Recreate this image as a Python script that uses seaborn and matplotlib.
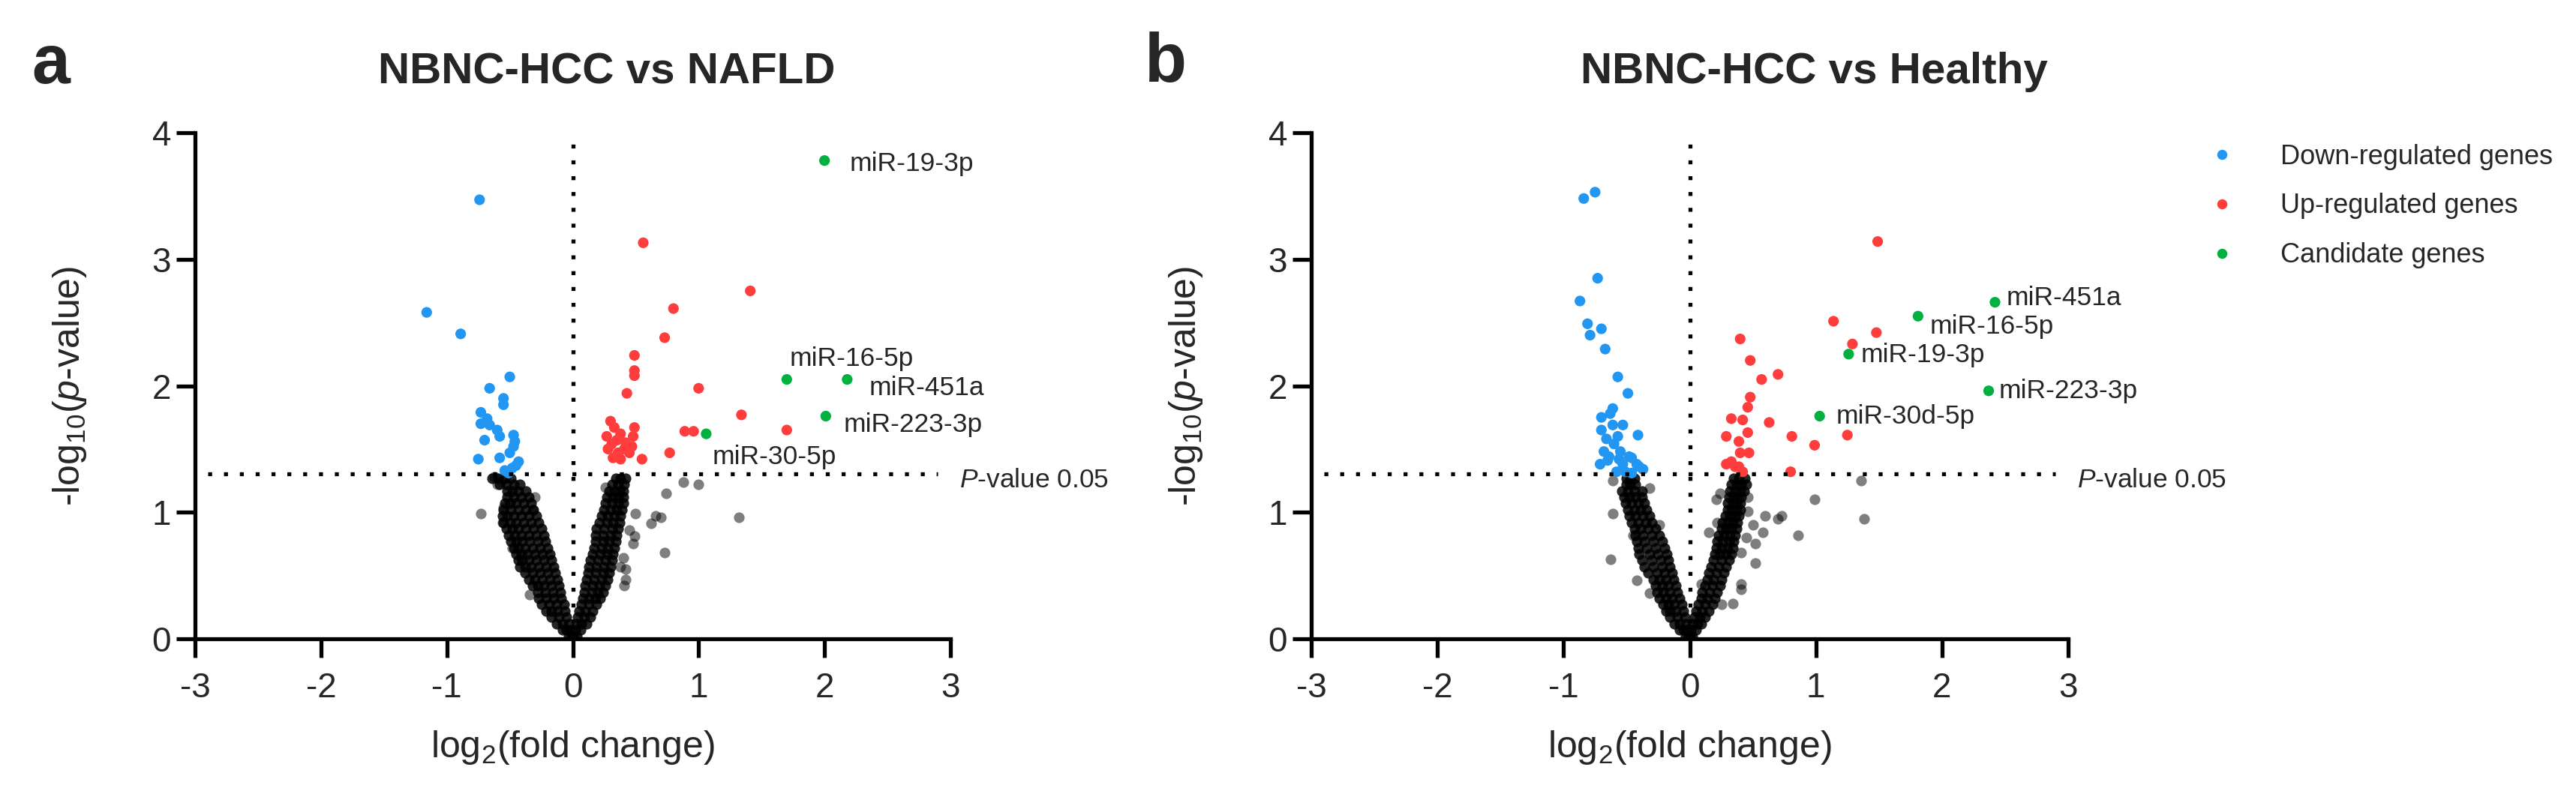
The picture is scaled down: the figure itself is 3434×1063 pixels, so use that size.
import numpy as np
import pandas as pd
import matplotlib
matplotlib.use('Agg')
import matplotlib.pyplot as plt
import seaborn as sns
from matplotlib.lines import Line2D

# ---------------- data ----------------
P_CUTOFF = -np.log10(0.05)

group_names = ['Down-regulated genes', 'Up-regulated genes', 'Candidate genes']

# panel a: NBNC-HCC vs NAFLD
nafld_down = [(-0.74, 3.47), (-1.16, 2.58), (-0.89, 2.41), (-0.50, 2.07), (-0.66, 1.98),
              (-0.55, 1.90), (-0.55, 1.85), (-0.73, 1.79), (-0.73, 1.70), (-0.66, 1.69),
              (-0.68, 1.74), (-0.60, 1.65), (-0.58, 1.60), (-0.47, 1.61), (-0.70, 1.57),
              (-0.47, 1.52), (-0.46, 1.56), (-0.75, 1.42), (-0.58, 1.43), (-0.43, 1.40),
              (-0.50, 1.47), (-0.48, 1.35), (-0.54, 1.33), (-0.45, 1.37), (-0.51, 1.31)]
nafld_up = [(0.56, 3.13), (1.41, 2.75), (0.80, 2.61), (0.73, 2.38), (0.49, 2.24),
            (0.49, 2.12), (0.49, 2.08), (0.43, 1.94), (1.00, 1.98), (1.34, 1.77),
            (1.70, 1.65), (0.89, 1.64), (0.96, 1.64), (0.77, 1.47), (0.55, 1.42),
            (0.30, 1.72), (0.33, 1.67), (0.38, 1.62), (0.49, 1.67), (0.48, 1.60),
            (0.31, 1.54), (0.42, 1.55), (0.28, 1.50), (0.36, 1.47), (0.45, 1.47),
            (0.32, 1.43), (0.47, 1.52), (0.27, 1.60), (0.38, 1.42), (0.35, 1.57),
            (0.41, 1.50)]
nafld_cand = [(2.00, 3.78), (1.70, 2.05), (2.18, 2.05), (2.01, 1.76), (1.06, 1.62)]
nafld_cand_names = ['miR-19-3p', 'miR-16-5p', 'miR-451a', 'miR-223-3p', 'miR-30-5p']
nafld_ns_scatter = [(-0.73, 0.99), (-0.48, 0.72), (-0.34, 0.35), (0.26, 1.20), (0.50, 0.99),
                    (0.74, 1.15), (0.88, 1.24), (1.00, 1.22), (1.32, 0.96), (0.66, 0.97),
                    (0.62, 0.91), (0.70, 0.96), (0.49, 0.81), (0.48, 0.75), (0.73, 0.68),
                    (0.38, 0.57), (0.42, 0.47), (0.41, 0.42), (-0.55, 1.04), (-0.56, 0.92),
                    (-0.32, 1.02), (-0.62, 1.28), (-0.55, 1.27), (-0.30, 1.12), (0.45, 0.86),
                    (0.40, 0.64), (0.42, 0.55), (-0.60, 1.22)]
# dense "V" of non-significant miRNAs, one row per -log10(p) level
nafld_v_left = [
    (0.02, [-0.01, -0.03]),
    (0.07, [-0.02, -0.05, -0.08]),
    (0.12, [-0.03, -0.08, -0.13]),
    (0.17, [-0.05, -0.11, -0.17]),
    (0.22, [-0.06, -0.12, -0.17, -0.21]),
    (0.27, [-0.07, -0.13, -0.19, -0.25]),
    (0.32, [-0.09, -0.15, -0.21, -0.27]),
    (0.37, [-0.10, -0.16, -0.22, -0.28]),
    (0.42, [-0.11, -0.17, -0.23, -0.28, -0.32]),
    (0.47, [-0.12, -0.18, -0.24, -0.30, -0.35]),
    (0.52, [-0.14, -0.20, -0.26, -0.32, -0.38]),
    (0.57, [-0.15, -0.21, -0.27, -0.33, -0.38, -0.42]),
    (0.62, [-0.17, -0.23, -0.29, -0.35, -0.40, -0.43]),
    (0.67, [-0.18, -0.24, -0.30, -0.36, -0.41, -0.45]),
    (0.72, [-0.20, -0.26, -0.32, -0.38, -0.43, -0.47]),
    (0.77, [-0.22, -0.28, -0.34, -0.40, -0.45, -0.49]),
    (0.82, [-0.23, -0.29, -0.35, -0.41, -0.46, -0.51]),
    (0.87, [-0.25, -0.31, -0.37, -0.43, -0.48, -0.53]),
    (0.92, [-0.27, -0.33, -0.39, -0.45, -0.50, -0.55]),
    (0.97, [-0.29, -0.35, -0.41, -0.47, -0.52, -0.56]),
    (1.02, [-0.31, -0.37, -0.43, -0.49, -0.55]),
    (1.07, [-0.33, -0.39, -0.45, -0.50, -0.54]),
    (1.12, [-0.35, -0.41, -0.47, -0.52]),
    (1.17, [-0.37, -0.43, -0.48, -0.52]),
    (1.22, [-0.42, -0.47, -0.53, -0.58]),
    (1.27, [-0.49, -0.54, -0.59, -0.64]),
]
nafld_v_right = [
    (0.02, [0.01, 0.03]),
    (0.07, [0.02, 0.06]),
    (0.12, [0.03, 0.07, 0.11]),
    (0.17, [0.04, 0.09, 0.14]),
    (0.22, [0.05, 0.10, 0.16]),
    (0.27, [0.07, 0.13, 0.19]),
    (0.32, [0.08, 0.13, 0.18, 0.22]),
    (0.37, [0.09, 0.15, 0.20, 0.24]),
    (0.42, [0.10, 0.16, 0.21, 0.26]),
    (0.47, [0.11, 0.17, 0.23, 0.28]),
    (0.52, [0.12, 0.18, 0.24, 0.29]),
    (0.57, [0.13, 0.19, 0.25, 0.30]),
    (0.62, [0.14, 0.20, 0.26, 0.31]),
    (0.67, [0.16, 0.22, 0.27, 0.32]),
    (0.72, [0.17, 0.23, 0.28, 0.33]),
    (0.77, [0.18, 0.24, 0.29, 0.34]),
    (0.82, [0.18, 0.24, 0.30, 0.35]),
    (0.87, [0.19, 0.25, 0.31, 0.36]),
    (0.92, [0.21, 0.27, 0.32, 0.37]),
    (0.97, [0.23, 0.28, 0.33, 0.38]),
    (1.02, [0.25, 0.30, 0.35, 0.39]),
    (1.07, [0.26, 0.31, 0.36, 0.40]),
    (1.12, [0.27, 0.32, 0.36, 0.40]),
    (1.17, [0.29, 0.33, 0.37, 0.40]),
    (1.22, [0.31, 0.36, 0.41]),
    (1.27, [0.34, 0.38, 0.42]),
]

# panel b: NBNC-HCC vs Healthy
healthy_down = [(-0.84, 3.48), (-0.75, 3.53), (-0.73, 2.85), (-0.87, 2.67), (-0.81, 2.49),
                (-0.70, 2.45), (-0.79, 2.40), (-0.67, 2.29), (-0.57, 2.07), (-0.49, 1.94),
                (-0.61, 1.82), (-0.70, 1.75), (-0.61, 1.69), (-0.53, 1.69), (-0.70, 1.65),
                (-0.41, 1.61), (-0.60, 1.54), (-0.68, 1.48), (-0.55, 1.48), (-0.46, 1.43),
                (-0.65, 1.41), (-0.71, 1.38), (-0.53, 1.38), (-0.40, 1.36), (-0.58, 1.32),
                (-0.51, 1.32), (-0.64, 1.44), (-0.56, 1.42), (-0.48, 1.44), (-0.42, 1.38),
                (-0.37, 1.34), (-0.46, 1.31), (-0.63, 1.78), (-0.57, 1.60), (-0.66, 1.58)]
healthy_up = [(1.49, 3.14), (1.14, 2.51), (1.48, 2.42), (1.29, 2.33), (0.40, 2.37),
              (0.48, 2.20), (0.70, 2.09), (0.57, 2.05), (0.48, 1.91), (0.46, 1.83),
              (0.33, 1.74), (0.42, 1.73), (0.63, 1.71), (0.46, 1.63), (0.29, 1.60),
              (0.39, 1.56), (0.81, 1.60), (1.25, 1.61), (0.99, 1.53), (0.40, 1.47),
              (0.47, 1.47), (0.29, 1.38), (0.36, 1.36), (0.42, 1.32), (0.80, 1.32),
              (0.39, 1.36), (0.33, 1.40)]
healthy_cand = [(2.42, 2.66), (1.81, 2.55), (1.26, 2.25), (2.37, 1.96), (1.03, 1.76)]
healthy_cand_names = ['miR-451a', 'miR-16-5p', 'miR-19-3p', 'miR-223-3p', 'miR-30d-5p']
healthy_ns_scatter = [(-0.61, 1.25), (-0.61, 0.99), (-0.63, 0.63), (-0.32, 1.19), (-0.45, 0.82),
                      (-0.42, 0.46), (-0.32, 0.36), (-0.24, 0.90), (1.36, 1.25), (0.99, 1.10),
                      (1.38, 0.95), (0.86, 0.82), (0.73, 0.97), (0.70, 0.95), (0.60, 0.97),
                      (0.58, 0.84), (0.50, 0.90), (0.45, 0.80), (0.52, 0.75), (0.52, 0.60),
                      (0.46, 1.12), (0.46, 1.01), (0.41, 0.68), (0.41, 0.43), (0.41, 0.39),
                      (0.34, 0.28), (0.24, 1.15), (0.21, 1.10), (0.22, 0.92), (0.15, 0.84),
                      (0.25, 0.27), (0.09, 0.43)]
healthy_v_left = [
    (0.02, [-0.01, -0.03]),
    (0.07, [-0.02, -0.05, -0.08]),
    (0.12, [-0.03, -0.08, -0.12]),
    (0.17, [-0.04, -0.10, -0.16]),
    (0.22, [-0.05, -0.11, -0.16, -0.19]),
    (0.27, [-0.06, -0.12, -0.17, -0.21]),
    (0.32, [-0.08, -0.14, -0.19, -0.24]),
    (0.37, [-0.10, -0.16, -0.21, -0.26]),
    (0.42, [-0.11, -0.17, -0.22, -0.27]),
    (0.47, [-0.13, -0.19, -0.24, -0.29]),
    (0.52, [-0.14, -0.20, -0.26, -0.33]),
    (0.57, [-0.16, -0.22, -0.29, -0.36]),
    (0.62, [-0.17, -0.23, -0.30, -0.38]),
    (0.67, [-0.18, -0.25, -0.32, -0.40]),
    (0.72, [-0.20, -0.27, -0.34, -0.41]),
    (0.77, [-0.22, -0.29, -0.36, -0.42]),
    (0.82, [-0.24, -0.30, -0.37, -0.43]),
    (0.87, [-0.27, -0.33, -0.39, -0.44]),
    (0.92, [-0.30, -0.35, -0.41, -0.46]),
    (0.97, [-0.32, -0.37, -0.43, -0.48]),
    (1.02, [-0.34, -0.39, -0.44, -0.49]),
    (1.07, [-0.36, -0.41, -0.46, -0.51]),
    (1.12, [-0.38, -0.43, -0.48, -0.52]),
    (1.17, [-0.38, -0.44, -0.49, -0.54]),
    (1.22, [-0.43, -0.47, -0.50]),
    (1.27, [-0.44, -0.47, -0.50]),
]
healthy_v_right = [
    (0.02, [0.00, 0.02]),
    (0.07, [0.01, 0.05]),
    (0.12, [0.02, 0.06, 0.09]),
    (0.17, [0.04, 0.08, 0.12]),
    (0.22, [0.05, 0.10, 0.15]),
    (0.27, [0.07, 0.12, 0.18]),
    (0.32, [0.09, 0.14, 0.20]),
    (0.37, [0.10, 0.16, 0.22]),
    (0.42, [0.12, 0.18, 0.24]),
    (0.47, [0.14, 0.19, 0.25]),
    (0.52, [0.15, 0.21, 0.27]),
    (0.57, [0.17, 0.23, 0.29]),
    (0.62, [0.19, 0.25, 0.31]),
    (0.67, [0.20, 0.24, 0.29, 0.33]),
    (0.72, [0.21, 0.25, 0.30, 0.34]),
    (0.77, [0.22, 0.26, 0.31, 0.35]),
    (0.82, [0.23, 0.27, 0.32, 0.36]),
    (0.87, [0.25, 0.29, 0.33, 0.37]),
    (0.92, [0.26, 0.30, 0.34, 0.38]),
    (0.97, [0.28, 0.32, 0.36, 0.39]),
    (1.02, [0.30, 0.33, 0.37, 0.40]),
    (1.07, [0.30, 0.34, 0.37, 0.40]),
    (1.12, [0.31, 0.35, 0.38, 0.41]),
    (1.17, [0.32, 0.36, 0.40, 0.43]),
    (1.22, [0.33, 0.37, 0.41, 0.45]),
    (1.27, [0.35, 0.39, 0.44]),
]

# ---------------- style ----------------
PALETTE = {'Down-regulated genes': '#2196F3',
           'Up-regulated genes': '#FF3D3D',
           'Candidate genes': '#00B140'}
MARKER_S = 105
LW = 3.8

sns.set_style('white')
plt.rcParams['font.family'] = ['Liberation Sans', 'DejaVu Sans']
plt.rcParams['mathtext.fontset'] = 'custom'
plt.rcParams['mathtext.rm'] = 'Liberation Sans'
plt.rcParams['mathtext.it'] = 'Liberation Sans:italic'
plt.rcParams['axes.unicode_minus'] = False


def rows_to_points(rows):
    pts = []
    for y, xs in rows:
        for x in xs:
            pts.append((x, y))
    return pts


def make_frame(points, group):
    return pd.DataFrame({'log2fc': [p[0] for p in points],
                         'logp': [p[1] for p in points],
                         'group': group})


def volcano(ax, v_points, ns_points, down, up, cand, cand_names, label_offsets):
    # the dense core stands for many stacked points, so it is drawn darker
    sns.scatterplot(data=make_frame(v_points, 'ns'), x='log2fc', y='logp', color='black',
                    alpha=0.85, s=MARKER_S, linewidth=0, ax=ax)
    sns.scatterplot(data=make_frame(ns_points, 'ns'), x='log2fc', y='logp', color='black',
                    alpha=0.5, s=MARKER_S, linewidth=0, ax=ax)
    sig = pd.concat([make_frame(down, group_names[0]),
                     make_frame(up, group_names[1]),
                     make_frame(cand, group_names[2])], ignore_index=True)
    sns.scatterplot(data=sig, x='log2fc', y='logp', hue='group', palette=PALETTE,
                    s=MARKER_S, linewidth=0, legend=False, ax=ax)

    ax.axvline(0, color='black', lw=LW, linestyle=(0, (1, 3)), zorder=1)
    ax.hlines(P_CUTOFF, -2.9, 2.9, color='black', lw=LW, linestyle=(0, (1, 3)), zorder=1)
    ax.annotate(r'$\mathit{P}$-value 0.05', xy=(3.07, 1.20), fontsize=25.5,
                ha='left', va='baseline', annotation_clip=False)

    for (x, y), name, off in zip(cand, cand_names, label_offsets):
        ax.annotate(name, xy=(x, y), xytext=off, textcoords='offset points',
                    fontsize=25.5, ha='left', va='center')

    ax.set_xlim(-3, 3)
    ax.set_ylim(0, 4)
    ax.set_xticks(range(-3, 4))
    ax.set_yticks(range(0, 5))
    for side in ['top', 'right']:
        ax.spines[side].set_visible(False)
    for side in ['left', 'bottom']:
        ax.spines[side].set_linewidth(LW)
        ax.spines[side].set_color('black')
    ax.tick_params(axis='both', direction='out', length=18, width=LW,
                   labelsize=33, color='black', bottom=True, left=True)
    ax.tick_params(axis='x', pad=14)
    ax.tick_params(axis='y', pad=5)
    ax.set_xlabel(r'log$_2$(fold change)', fontsize=36, va='baseline')
    ax.set_ylabel(r'-log$_{10}$($\mathit{p}$-value)', fontsize=36, va='baseline')
    ax.xaxis.set_label_coords(0.5, -0.234)
    ax.yaxis.set_label_coords(-0.153, 0.5)


fig = plt.figure(figsize=(34.34, 10.63), dpi=100)
W, H = 3434, 1063
ax_a = fig.add_axes([260 / W, 1 - 852 / H, 1007 / W, 675 / H])
ax_b = fig.add_axes([1748 / W, 1 - 852 / H, 1009 / W, 675 / H])

volcano(ax_a,
        rows_to_points(nafld_v_left) + rows_to_points(nafld_v_right), nafld_ns_scatter,
        nafld_down, nafld_up, nafld_cand, nafld_cand_names,
        [(24, -3), (3, 20), (21, -8), (17, -8), (6, -22)])
volcano(ax_b,
        rows_to_points(healthy_v_left) + rows_to_points(healthy_v_right), healthy_ns_scatter,
        healthy_down, healthy_up, healthy_cand, healthy_cand_names,
        [(11, 4), (11, -10), (12, -1), (10, 0), (16, 0)])

fig.text(809 / W, 1 - 111 / H, 'NBNC-HCC vs NAFLD', fontsize=42, fontweight='bold',
         ha='center', va='baseline')
fig.text(2418 / W, 1 - 111 / H, 'NBNC-HCC vs Healthy', fontsize=42, fontweight='bold',
         ha='center', va='baseline')
fig.text(42 / W, 1 - 111 / H, 'a', fontsize=66, fontweight='bold', ha='left', va='baseline')
fig.text(1526 / W, 1 - 109 / H, 'b', fontsize=66, fontweight='bold', ha='left', va='baseline')

handles = [Line2D([], [], linestyle='none', marker='o', markersize=9.7,
                  markerfacecolor=PALETTE[g], markeredgewidth=0) for g in group_names]
fig.legend(handles, group_names, loc='center left',
           bbox_to_anchor=(2944 / W, 1 - 275 / H), frameon=False, fontsize=26,
           handlelength=1.0, handletextpad=1.67, labelspacing=0.85,
           borderpad=0, borderaxespad=0)

fig.savefig('out.png', dpi=100)
plt.close(fig)
